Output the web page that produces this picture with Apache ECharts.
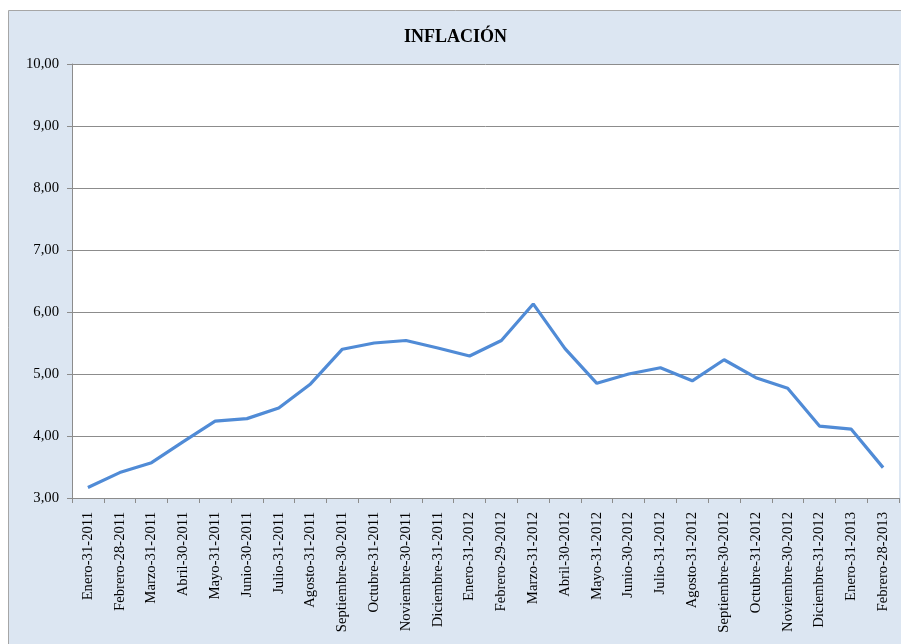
<!DOCTYPE html>
<html>
<head>
<meta charset="utf-8">
<title>Inflación</title>
<script src="https://cdn.jsdelivr.net/npm/echarts@6/dist/echarts.min.js"></script>
<style>
  html, body { margin: 0; padding: 0; background: #fff; overflow: hidden; }
  #grafico { width: 901px; height: 644px; }
</style>
</head>
<body>
<div id="grafico"></div>
<script>
// datos
var fechas = [
    'Enero-31-2011', 'Febrero-28-2011', 'Marzo-31-2011', 'Abril-30-2011',
    'Mayo-31-2011', 'Junio-30-2011', 'Julio-31-2011', 'Agosto-31-2011',
    'Septiembre-30-2011', 'Octubre-31-2011', 'Noviembre-30-2011', 'Diciembre-31-2011',
    'Enero-31-2012', 'Febrero-29-2012', 'Marzo-31-2012', 'Abril-30-2012',
    'Mayo-31-2012', 'Junio-30-2012', 'Julio-31-2012', 'Agosto-31-2012',
    'Septiembre-30-2012', 'Octubre-31-2012', 'Noviembre-30-2012', 'Diciembre-31-2012',
    'Enero-31-2013', 'Febrero-28-2013'
];
var inflacion = [
    3.17, 3.41, 3.57, 3.91, 4.24, 4.28, 4.45, 4.84, 5.40, 5.50, 5.54, 5.42, 5.29,
    5.54, 6.13, 5.41, 4.85, 5.00, 5.10, 4.89, 5.23, 4.94, 4.77, 4.16, 4.11, 3.49
];

var fuente = '"Liberation Serif", "Times New Roman", serif';

var dom = document.getElementById("grafico");
var myChart = echarts.init(dom);

var option = {
    backgroundColor: '#ffffff',
    animation: false,
    graphic: [{
        type: 'rect',
        z: -10,
        shape: { x: 8.5, y: 10.5, width: 910, height: 650 },
        style: { fill: '#dce6f2', stroke: '#a6a6a6', lineWidth: 1 }
    }],
    title: {
        text: 'INFLACIÓN',
        left: 399,
        top: 23,
        textStyle: {
            fontFamily: fuente,
            fontSize: 18,
            fontWeight: 'bold',
            color: '#000'
        }
    },
    grid: {
        left: 72,
        top: 64,
        width: 827,
        height: 434,
        show: true,
        backgroundColor: '#ffffff',
        borderWidth: 0,
        containLabel: false
    },
    xAxis: {
        type: 'category',
        data: fechas,
        boundaryGap: true,
        axisLine: { lineStyle: { color: '#8c8c8c', width: 1 } },
        axisTick: { show: true, length: 5, lineStyle: { color: '#8c8c8c' } },
        axisLabel: {
            interval: 0,
            rotate: 90,
            margin: 14,
            fontFamily: fuente,
            fontSize: 14.7,
            color: '#000'
        }
    },
    yAxis: {
        type: 'value',
        min: 3,
        max: 10,
        interval: 1,
        axisLine: { show: true, lineStyle: { color: '#8c8c8c', width: 1 } },
        axisTick: { show: true, length: 5, lineStyle: { color: '#8c8c8c' } },
        axisLabel: {
            margin: 13,
            fontFamily: fuente,
            fontSize: 14.7,
            color: '#000',
            formatter: function (v) { return v.toFixed(2).replace('.', ','); }
        },
        splitLine: { show: true, lineStyle: { color: '#8c8c8c', width: 1 } }
    },
    series: [{
        name: 'Inflación',
        type: 'line',
        data: inflacion,
        showSymbol: false,
        smooth: false,
        lineStyle: { color: '#508bd6', width: 3.2 },
        itemStyle: { color: '#508bd6' }
    }]
};

if (option && typeof option === "object") {
    myChart.setOption(option, true);
}
</script>
</body>
</html>
